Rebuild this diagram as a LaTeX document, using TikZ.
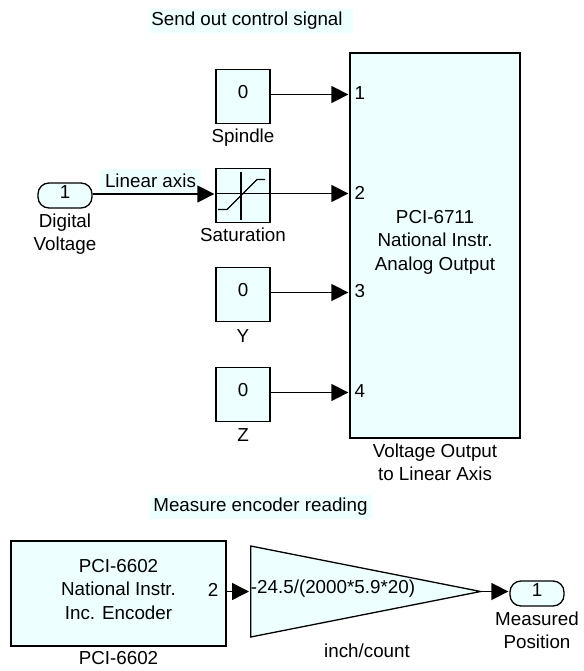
\documentclass[tikz,border=0pt]{standalone}
\usepackage{fontspec}
\setmainfont{Liberation Sans}
\usepackage{xcolor}
\usetikzlibrary{arrows.meta,positioning,shapes.geometric}
\definecolor{blockfill}{RGB}{238,255,255}
\newcommand{\lab}{\fontsize{18.8}{23.5}\selectfont}

\begin{document}
\begin{tikzpicture}[x=1pt,y=-1pt,
  box/.style={draw=black,fill=blockfill,line width=1.3pt,inner sep=0pt,align=center,font=\lab},
  const/.style={box,minimum width=54pt,minimum height=54pt,text depth=9.5pt},
  port/.style={box,rounded corners=11pt,minimum width=54pt,minimum height=25pt,text depth=6pt},
  blocklabel/.style={inner sep=0pt,align=center,font=\lab},
  note/.style={fill=blockfill,inner sep=0pt,font=\lab},
  arr/.style={-{Triangle[length=17pt,width=17pt]},black,line width=1.5pt,shorten >=1pt}]
\useasboundingbox (0,0) rectangle (583,671);
% upper part
\node[note,minimum width=204pt,minimum height=24pt] (sendnote) at (251,21) {Send out control signal\hspace*{8pt}};
\node[const] (spindle) at (243,96.5) {0};
\node[const] (sat) at (243,195.5) {};
\node[const] (yconst) at (243,294.5) {0};
\node[const] (zconst) at (243,394.5) {0};
\node[box,minimum width=170pt,minimum height=385pt] (aout) at (435,245.5) {PCI-6711\\National Instr.\\Analog Output\\[-12.5pt]};
\node[port] (vin) at (65,195.5) {1};
\node[blocklabel,below=5pt of spindle] (spindlecap) {Spindle};
\node[blocklabel,below=5pt of sat] (satcap) {Saturation};
\node[blocklabel,below=7pt of yconst] (ycap) {Y};
\node[blocklabel,below=6pt of zconst] (zcap) {Z};
\node[blocklabel,below=5pt of vin] (vincap) {Digital\\Voltage};
\node[blocklabel,below=5pt of aout] (aoutcap) {Voltage Output\\to Linear Axis};
\node[note,minimum width=101pt,minimum height=23pt] (axisnote) at (150.5,181) {Linear axis};
% saturation icon
\draw[line width=1.1pt] ([yshift=2pt]sat.west) -- ([yshift=2pt]sat.east) (sat.center) ++(-2,-24) -- ++(0,48);
\draw[line width=1.1pt] (sat.center) ++(-25,14) -- ++(9,0) -- ++(30,-30) -- ++(8,0);
% port numbers
\foreach \n/\src in {1/spindle,2/sat,3/yconst,4/zconst}{
  \draw[arr] ([yshift=2pt]\src.east) -- ([yshift=2pt]\src.east -| aout.west);
  \node[blocklabel,right=5pt of {[yshift=3pt]\src.east -| aout.west}] (in\n) {\n};
}
\draw[arr] ([yshift=1.5pt]vin.east) -- ([yshift=1.5pt]sat.west);
% lower part
\node[note,minimum width=223pt,minimum height=24pt] (measnote) at (260.5,507) {Measure encoder reading};
\node[box,minimum width=215pt,minimum height=105pt] (enc) at (118.5,593.5) {PCI-6602\\National Instr.\\Inc. Encoder\\[-14.5pt]};
\node[box,isosceles triangle,isosceles triangle stretches,minimum width=91pt,minimum height=230pt,anchor=lower side] (gain) at (250,591.5) {};
\node[blocklabel] (gainval) at (333,589) {-24.5/(2000*5.9*20)};
\node[port] (vout) at (537,593.5) {1};
\node[blocklabel,below=5pt of enc] (enccap) {PCI-6602};
\node[blocklabel] (gaincap) at (367,651) {inch/count};
\node[blocklabel,below=5pt of vout] (voutcap) {Measured\\Position};
\node[blocklabel,left=8pt of {[yshift=4pt]enc.east}] (encport) {2};
\draw[arr] (enc.east |- gain.lower side) -- (gain.lower side);
\draw[arr] (gain.apex) -- (vout.west |- gain.apex);
\end{tikzpicture}
\end{document}
